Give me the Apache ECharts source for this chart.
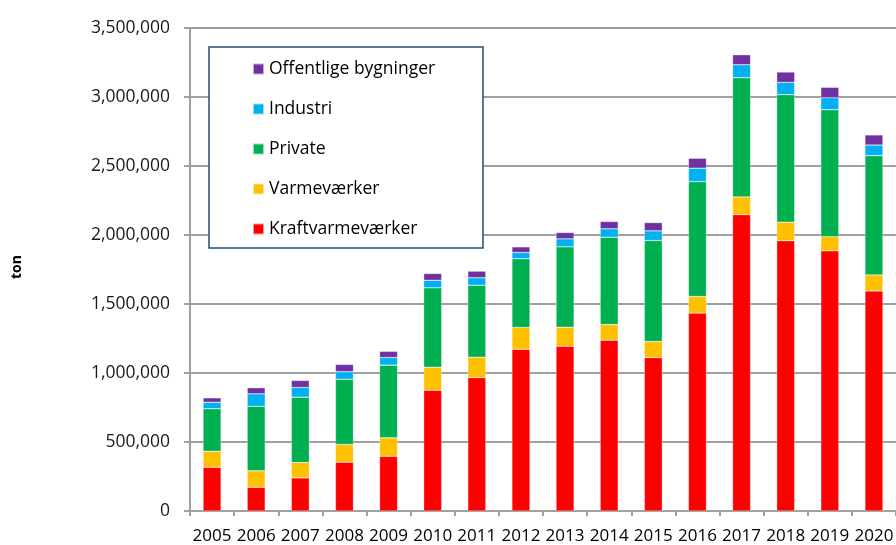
<!DOCTYPE html>
<html>
<head>
<meta charset="utf-8">
<script src="https://cdn.jsdelivr.net/npm/echarts@6/dist/echarts.min.js"></script>
<style>
html,body{margin:0;padding:0;background:#fff;}
#c{width:896px;height:545px;}
</style>
</head>
<body>
<div id="c"></div>
<script>
var years = ['2005','2006','2007','2008','2009','2010','2011','2012','2013','2014','2015','2016','2017','2018','2019','2020'];
var kraftvarme = [317000,172000,240000,354000,397000,875000,967000,1172000,1194000,1238000,1112000,1434000,2148000,1959000,1885000,1595000];
var varme      = [116000,119000,111000,128000,133000,167000,148000,158000,138000,113000,116000,120000,128000,134000,103000,116000];
var privat     = [308000,468000,474000,473000,527000,575000,521000,498000,582000,633000,732000,833000,864000,924000,920000,864000];
var industri   = [47000,90000,70000,54000,55000,55000,54000,45000,58000,61000,70000,97000,94000,89000,87000,77000];
var offentlig  = [32000,44000,51000,53000,45000,49000,48000,41000,46000,53000,60000,72000,72000,75000,75000,73000];
var yTicks = [0,500000,1000000,1500000,2000000,2500000,3000000,3500000];

var names = ['Kraftvarmeværker','Varmeværker','Private','Industri','Offentlige bygninger'];
var colors = ['#FF0000','#FFC000','#00B050','#00B0F0','#7030A0'];
var datas = [kraftvarme, varme, privat, industri, offentlig];

var FONT = 'Open Sans';
var chart = echarts.init(document.getElementById('c'), null, {renderer:'canvas'});
var series = names.map(function(n,i){
  return {
    name:n, type:'bar', stack:'total', barWidth:18,
    data:datas[i],
    itemStyle:{color:colors[i], borderColor:'rgba(255,255,255,0.6)', borderWidth:0.5},
    emphasis:{disabled:true}
  };
});
function fmt(v){ return v.toString().replace(/\B(?=(\d{3})+(?!\d))/g, ','); }
chart.setOption({
  animation:false,
  backgroundColor:'#fff',
  grid:{left:190, right:0, top:28, bottom:34, containLabel:false, outerBoundsMode:'none'},
  graphic:[
    {type:'rect', z:100, shape:{x:209, y:47, width:274, height:201},
     style:{fill:'#fff', stroke:'#1F4E79', lineWidth:1.5}},
    {type:'text', z:100, x:17, y:267, rotation:Math.PI/2,
     style:{text:'ton', fontFamily:FONT, fontSize:14, fontWeight:'bold', fill:'#000', align:'center', verticalAlign:'middle'}}
  ],
  legend:{
    show:true, orient:'vertical', left:252, top:60, z:110, padding:0,
    itemWidth:11, itemHeight:11, itemGap:22,
    icon:'rect',
    data:['Offentlige bygninger','Industri','Private','Varmeværker','Kraftvarmeværker'],
    textStyle:{fontFamily:FONT, fontSize:17.5, color:'#000'},
    selectedMode:false
  },
  xAxis:{
    type:'category', data:years,
    axisLine:{lineStyle:{color:'#A0A0A0', width:2}},
    axisTick:{show:true, length:5, lineStyle:{color:'#A0A0A0', width:2}},
    axisLabel:{fontFamily:FONT, fontSize:17, color:'#000', margin:17, interval:0}
  },
  yAxis:{
    type:'value', min:0, max:3500000, interval:500000,
    axisLine:{show:true, lineStyle:{color:'#A0A0A0', width:2}},
    axisTick:{show:true, length:6, lineStyle:{color:'#A0A0A0', width:2}},
    axisLabel:{fontFamily:FONT, fontSize:17.5, color:'#1a1a1a', margin:20, formatter:function(v){return fmt(v);}},
    splitLine:{show:true, lineStyle:{color:'#A0A0A0', width:2}}
  },
  series:series
});
</script>
</body>
</html>
